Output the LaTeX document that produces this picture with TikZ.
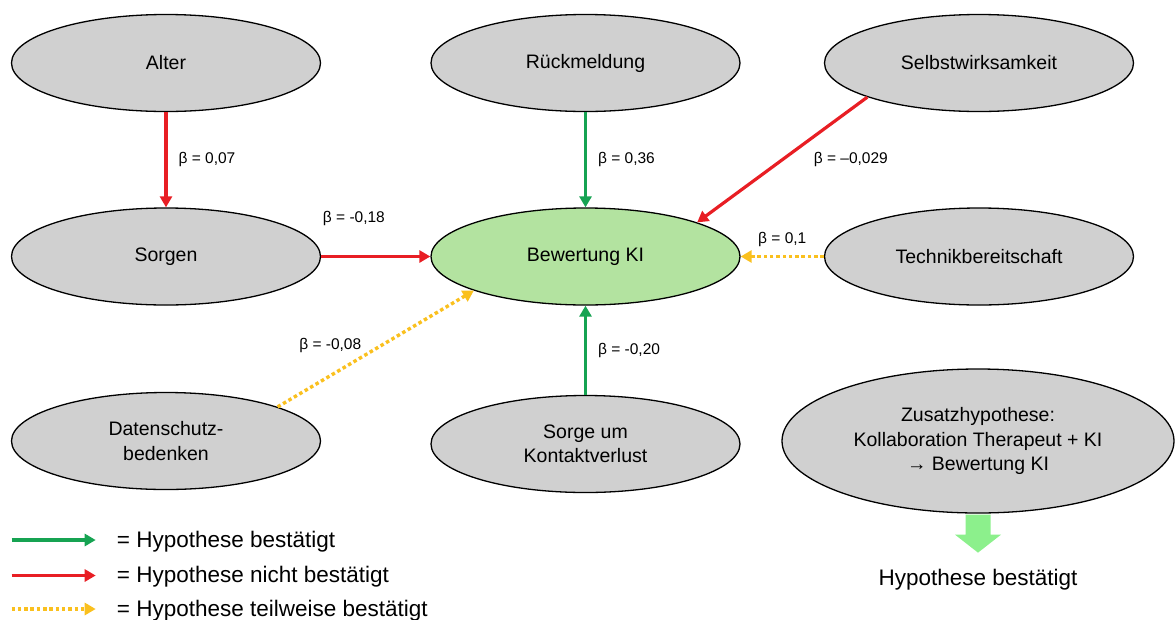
\documentclass[tikz,border=0pt]{standalone}
\usepackage{fontspec}
\setmainfont{Liberation Sans}
\usetikzlibrary{positioning}
\usetikzlibrary{shapes.geometric}
\usetikzlibrary{arrows.meta}

\definecolor{ovalgray}{RGB}{208,208,208}
\definecolor{ratinggreen}{RGB}{179,227,160}
\definecolor{okgreen}{RGB}{22,163,82}
\definecolor{norred}{RGB}{232,30,36}
\definecolor{partyellow}{RGB}{250,192,30}
\definecolor{blockgreen}{RGB}{140,240,140}

\begin{document}
\begin{tikzpicture}[x=1pt, y=-1pt,
            ovalnode/.style={ellipse, align=center, draw=black, line width=1.3pt, fill=ovalgray, minimum width=309pt, minimum height=97pt, inner sep=0pt, font=\fontsize{19.5}{24.5}\selectfont},
            betalabel/.style={inner sep=0pt, text=black, font=\fontsize{15.5}{18}\selectfont},
            confirmed/.style={color=okgreen, line width=3.2pt, -{Triangle[length=11pt, width=12pt]}},
            rejected/.style={color=norred, line width=3.2pt, -{Triangle[length=11pt, width=12pt]}},
            partly/.style={color=partyellow, line width=3.4pt, dash pattern=on 3.5pt off 2.8pt, -{Triangle[length=11pt, width=12pt]}},
            legendtext/.style={anchor=base west, inner sep=0pt, font=\fontsize{22.5}{26}\selectfont},
        ]

        \useasboundingbox (0,0) rectangle (1175,619);

        % Nodes.
        \node[ovalnode] (age)         at (166,63)      {Alter};
        \node[ovalnode] (feedback)    at (585.5,63)    {Rückmeldung};
        \node[ovalnode] (selfeff)     at (979,63)      {Selbstwirksamkeit};
        \node[ovalnode] (worries)     at (166,256.5)   {Sorgen};
        \node[ovalnode, fill=ratinggreen] (rating) at (585.5,256.5) {Bewertung KI};
        \node[ovalnode] (techready)   at (979,256.5)   {Technikbereitschaft};
        \node[ovalnode] (privacy)     at (166,441)     {Datenschutz-\\bedenken};
        \node[ovalnode] (contactloss) at (585.5,444)   {Sorge um\\Kontaktverlust};
        \node[ovalnode, minimum width=392pt, minimum height=144pt] (extra) at (978,441) {Zusatzhypothese:\\Kollaboration Therapeut + KI\\→ Bewertung KI};
        \node[legendtext, anchor=base] (result) at (978,585) {Hypothese bestätigt};

        % Lines.
        \draw[rejected]  (age.south) -- (worries.north) node[betalabel, midway, right=11pt] (b_age) {β = 0,07};
        \draw[rejected]  (worries.east) -- (rating.west) node[betalabel, pos=0.3, above=29pt] (b_worries) {β = -0,18};
        \draw[confirmed] (feedback.south) -- (rating.north) node[betalabel, midway, right=11pt] (b_feedback) {β = 0,36};
        \draw[rejected]  (selfeff.197) -- (rating.17) node[betalabel, midway, right=30pt] (b_selfeff) {β = –0,029};
        \draw[partly]    (techready.west) -- (rating.east) node[betalabel, midway, above=8pt] (b_techready) {β = 0,1};
        \draw[partly]    (privacy.17) -- (rating.197) node[betalabel, pos=0.45, anchor=south east, xshift=-3pt] (b_privacy) {β = -0,08};
        \draw[confirmed] (contactloss.north) -- (rating.south) node[betalabel, midway, right=11pt] (b_contactloss) {β = -0,20};

        % Block arrow.
        \fill[blockgreen] (extra.south) ++(-12.5,1) -- ++(0,20) -- ++(-10.5,0) -- ++(23,18) -- ++(23,-18) -- ++(-10.5,0) -- ++(0,-20) -- cycle;

        % Legend.
        \coordinate (okstart)   at (11.5,540);
        \coordinate (okend)     at (95.7,540);
        \coordinate (nostart)   at (11.5,575.5);
        \coordinate (noend)     at (95.7,575.5);
        \coordinate (partstart) at (11.5,609);
        \coordinate (partend)   at (95.7,609);
        \node[legendtext] (okinfo)   at (116.7,547.3) {= Hypothese bestätigt};
        \node[legendtext] (noinfo)   at (116.7,582.8) {= Hypothese nicht bestätigt};
        \node[legendtext] (partinfo) at (116.7,616.3) {= Hypothese teilweise bestätigt};
        \draw[confirmed] (okstart) -- (okend);
        \draw[rejected]  (nostart) -- (noend);
        \draw[partly]    (partstart) -- (partend);
    \end{tikzpicture}
\end{document}
